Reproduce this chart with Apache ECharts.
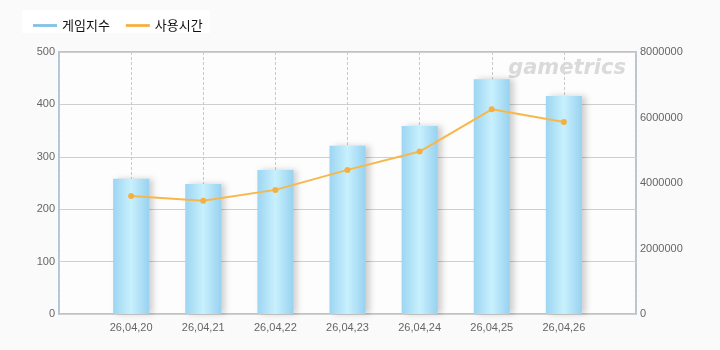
<!DOCTYPE html>
<html><head><meta charset="utf-8">
<script src="https://cdn.jsdelivr.net/npm/echarts@6/dist/echarts.min.js"></script>
<style>html,body{margin:0;padding:0;background:#fafafa}#c{width:720px;height:350px}</style>
</head><body><div id="c"></div>
<script>
const categories = ['', '26,04,20', '26,04,21', '26,04,22', '26,04,23', '26,04,24', '26,04,25', '26,04,26', ''];
const gameIndex = [null, 258, 248, 275, 321, 359, 448, 416, null];
const usageTime = [null, 3600000, 3460000, 3790000, 4400000, 4960000, 6250000, 5860000, null];
const leftTicks = [0, 100, 200, 300, 400, 500];
const rightTicks = [0, 2000000, 4000000, 6000000, 8000000];

const chart = echarts.init(document.getElementById('c'));
const barGrad = new echarts.graphic.LinearGradient(0, 0, 1, 0, [
  {offset: 0, color: '#9dd5f2'},
  {offset: 0.5, color: '#c8f0fd'},
  {offset: 1, color: '#98d2f0'}
]);
chart.setOption({
  backgroundColor: '#fafafa',
  animation: false,
  graphic: [
    {type: 'rect', left: 22, top: 10, shape: {width: 188, height: 23}, style: {fill: '#ffffff'}, z: 0},
    {type: 'text', right: 94, top: 58, z: 1, style: {text: 'gametrics', font: 'italic bold 21px "DejaVu Sans"', fill: '#dadada'}}
  ],
  legend: {
    left: 28, top: 14, itemWidth: 24, itemHeight: 10, itemGap: 16,
    textStyle: {fontSize: 13, color: '#111', fontFamily: 'Noto Sans CJK KR'},
    data: [
      {name: '게임지수', icon: 'path://M0,4 L26,4 L26,7 L0,7 Z', itemStyle: {color: '#7ec0e8'}},
      {name: '사용시간', icon: 'path://M0,4 L26,4 L26,7 L0,7 Z', itemStyle: {color: '#f5b041'}}
    ]
  },
  grid: {left: 59, right: 84, top: 52, bottom: 36, show: true, backgroundColor: '#fdfdfd', borderColor: '#b3c5d8', borderWidth: 2},
  xAxis: {
    type: 'category', data: categories, boundaryGap: false,
    axisLine: {show: false}, axisTick: {show: false},
    axisLabel: {color: '#666', fontSize: 11, fontFamily: 'Liberation Sans', margin: 8},
    splitLine: {show: true, lineStyle: {color: '#c8c8c8', type: [3, 2], width: 1}}
  },
  yAxis: [
    {type: 'value', min: 0, max: 500, interval: 100,
     axisLine: {show: false}, axisTick: {show: false},
     axisLabel: {color: '#666', fontSize: 11, fontFamily: 'Liberation Sans', margin: 4},
     splitLine: {lineStyle: {color: '#cfcfcf'}}},
    {type: 'value', min: 0, max: 8000000, interval: 2000000, position: 'right',
     axisLine: {show: false}, axisTick: {show: false},
     axisLabel: {color: '#666', fontSize: 11, fontFamily: 'Liberation Sans', margin: 4, formatter: v => String(v)},
     splitLine: {show: false}}
  ],
  series: [
    {name: '게임지수', type: 'bar', data: gameIndex, barWidth: 36, yAxisIndex: 0,
     itemStyle: {color: barGrad, shadowColor: 'rgba(0,0,0,0.18)', shadowBlur: 6, shadowOffsetX: 4}},
    {name: '사용시간', type: 'line', data: usageTime, yAxisIndex: 1,
     symbol: 'circle', symbolSize: 6, connectNulls: false,
     lineStyle: {color: '#f7b84a', width: 2},
     itemStyle: {color: '#f5b041'}}
  ]
});
</script></body></html>
